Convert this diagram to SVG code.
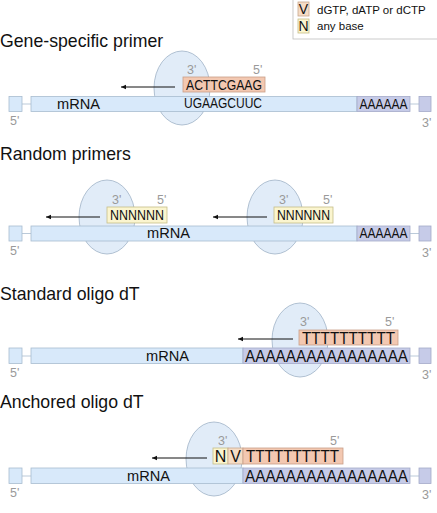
<svg xmlns="http://www.w3.org/2000/svg" width="437" height="513" viewBox="0 0 437 513">
<defs>
<style>
.title{font-family:"Liberation Sans",Arial,sans-serif;font-size:17.7px;fill:#111}
.lbl{font-family:"Liberation Sans",Arial,sans-serif;font-size:12.5px;fill:#9a9a9a}
.seq{font-family:"Liberation Sans",Arial,sans-serif;font-size:14px;fill:#111}
.big{font-family:"Liberation Sans",Arial,sans-serif;font-size:16px;fill:#111}
.leg{font-family:"Liberation Sans",Arial,sans-serif;font-size:11.5px;fill:#111}
.bar{fill:#d8e9fa;stroke:#a9bccf;stroke-width:0.8}
.poly{fill:#c6cbe8;stroke:#a3aac9;stroke-width:0.8}
.ell{fill:#dce9f7;fill-opacity:0.85;stroke:#9fb2c6;stroke-width:0.8}
.peach{fill:#f3c8b1;stroke:#c99e88;stroke-width:0.8}
.yel{fill:#fbf5cf;stroke:#c5bd88;stroke-width:0.8}
.vsw{fill:#f5dcc5;stroke:#c9a88e;stroke-width:0.8}
.tick{stroke:#a9bccf;stroke-width:0.8;fill:none}
.arr{stroke:#111;stroke-width:1;fill:none;marker-end:url(#ah)}
</style>
<marker id="ah" markerWidth="6" markerHeight="6" refX="5" refY="3" orient="auto" markerUnits="userSpaceOnUse">
<path d="M0,0.8 L5,3 L0,5.2 Z" fill="#111"/>
</marker>
</defs>

<g id="legend">
<rect x="293" y="-1" width="150" height="40" fill="#fff" stroke="#bdbdbd" stroke-width="0.8"/>
<rect class="vsw" x="298" y="2" width="11" height="14"/>
<text class="seq" x="303.5" y="14" text-anchor="middle">V</text>
<text class="leg" x="317" y="14">dGTP, dATP or dCTP</text>
<rect class="yel" x="298" y="19" width="11" height="14"/>
<text class="seq" x="303.5" y="31" text-anchor="middle">N</text>
<text class="leg" x="317" y="30">any base</text>
</g>

<!-- Row 1: Gene-specific primer -->
<g id="row1">
<text class="title" x="0" y="47">Gene-specific primer</text>
<ellipse class="ell" cx="182" cy="88" rx="28" ry="37"/>
<rect class="bar" x="9" y="96.5" width="13" height="15"/>
<line class="tick" x1="22" y1="104" x2="31" y2="104"/>
<rect class="bar" x="31" y="96.5" width="326" height="15"/>
<rect class="poly" x="357" y="96.5" width="53" height="15"/>
<line class="tick" x1="410" y1="104" x2="419" y2="104"/>
<rect class="poly" x="419" y="96.5" width="12" height="15"/>
<text class="seq" x="57" y="108.5" textLength="43" lengthAdjust="spacingAndGlyphs">mRNA</text>
<text class="seq" x="184" y="107.5" textLength="78" lengthAdjust="spacingAndGlyphs">UGAAGCUUC</text>
<text class="seq" x="359.5" y="108.5" textLength="48" lengthAdjust="spacingAndGlyphs">AAAAAA</text>
<rect class="peach" x="183" y="77" width="82" height="15"/>
<text class="seq" x="186" y="89.5" textLength="76" lengthAdjust="spacingAndGlyphs">ACTTCGAAG</text>
<text class="lbl" x="187" y="74">3'</text>
<text class="lbl" x="253" y="74">5'</text>
<text class="lbl" x="10" y="125">5'</text>
<text class="lbl" x="422" y="127">3'</text>
</g>

<!-- Row 2: Random primers -->
<g id="row2">
<text class="title" x="0" y="160">Random primers</text>
<ellipse class="ell" cx="107" cy="217" rx="28" ry="37"/>
<ellipse class="ell" cx="275" cy="217" rx="28" ry="37"/>
<rect class="bar" x="9" y="226" width="13" height="15"/>
<line class="tick" x1="22" y1="233.5" x2="31" y2="233.5"/>
<rect class="bar" x="31" y="226" width="326" height="15"/>
<rect class="poly" x="357" y="226" width="53" height="15"/>
<line class="tick" x1="410" y1="233.5" x2="419" y2="233.5"/>
<rect class="poly" x="419" y="226" width="12" height="15"/>
<text class="seq" x="147" y="238" textLength="43" lengthAdjust="spacingAndGlyphs">mRNA</text>
<text class="seq" x="359.5" y="238" textLength="48" lengthAdjust="spacingAndGlyphs">AAAAAA</text>
<rect class="yel" x="107" y="207" width="60" height="16"/>
<text class="seq" x="110" y="220" textLength="54" lengthAdjust="spacingAndGlyphs">NNNNNN</text>
<rect class="yel" x="274" y="207" width="59" height="16"/>
<text class="seq" x="277" y="220" textLength="53" lengthAdjust="spacingAndGlyphs">NNNNNN</text>
<text class="lbl" x="112" y="204">3'</text>
<text class="lbl" x="157" y="204">5'</text>
<text class="lbl" x="279" y="204">3'</text>
<text class="lbl" x="323" y="204">5'</text>
<text class="lbl" x="10" y="255">5'</text>
<text class="lbl" x="422" y="257">3'</text>
</g>

<!-- Row 3: Standard oligo dT -->
<g id="row3">
<text class="title" x="0" y="300">Standard oligo dT</text>
<ellipse class="ell" cx="300" cy="340" rx="28" ry="37"/>
<rect class="bar" x="9" y="348" width="13" height="15.5"/>
<line class="tick" x1="22" y1="356" x2="31" y2="356"/>
<rect class="bar" x="31" y="348" width="212" height="15.5"/>
<rect class="poly" x="243" y="348" width="167" height="15.5"/>
<line class="tick" x1="410" y1="356" x2="419" y2="356"/>
<rect class="poly" x="419" y="348" width="12" height="15.5"/>
<text class="seq" x="146" y="361" textLength="43" lengthAdjust="spacingAndGlyphs">mRNA</text>
<text class="big" x="245" y="362" textLength="163" lengthAdjust="spacingAndGlyphs">AAAAAAAAAAAAAAAA</text>
<rect class="peach" x="299" y="330" width="99" height="15"/>
<text class="big" x="302" y="343.5" textLength="93" lengthAdjust="spacingAndGlyphs">TTTTTTTTTT</text>
<text class="lbl" x="300" y="326">3'</text>
<text class="lbl" x="385" y="326">5'</text>
<text class="lbl" x="10" y="377">5'</text>
<text class="lbl" x="422" y="379">3'</text>
</g>

<!-- Row 4: Anchored oligo dT -->
<g id="row4">
<text class="title" x="0" y="408">Anchored oligo dT</text>
<ellipse class="ell" cx="214" cy="459" rx="28" ry="37"/>
<rect class="bar" x="9" y="468" width="13" height="15.5"/>
<line class="tick" x1="22" y1="476" x2="31" y2="476"/>
<rect class="bar" x="31" y="468" width="212" height="15.5"/>
<rect class="poly" x="243" y="468" width="167" height="15.5"/>
<line class="tick" x1="410" y1="476" x2="419" y2="476"/>
<rect class="poly" x="419" y="468" width="12" height="15.5"/>
<text class="seq" x="127" y="481" textLength="43" lengthAdjust="spacingAndGlyphs">mRNA</text>
<text class="big" x="245" y="482" textLength="163" lengthAdjust="spacingAndGlyphs">AAAAAAAAAAAAAAAA</text>
<rect class="yel" x="213" y="448" width="15" height="16"/>
<text class="big" x="220.5" y="462" text-anchor="middle">N</text>
<rect class="vsw" x="228" y="448" width="15" height="16"/>
<text class="big" x="235.5" y="462" text-anchor="middle">V</text>
<rect class="peach" x="243" y="448" width="100" height="16"/>
<text class="big" x="246" y="462" textLength="93" lengthAdjust="spacingAndGlyphs">TTTTTTTTTT</text>
<text class="lbl" x="218" y="445">3'</text>
<text class="lbl" x="330" y="445">5'</text>
<text class="lbl" x="10" y="497">5'</text>
<text class="lbl" x="422" y="499">3'</text>
</g>

<g id="connectors">
<line class="arr" x1="175" y1="87" x2="121" y2="87"/>
<line class="arr" x1="100" y1="217" x2="46" y2="217"/>
<line class="arr" x1="267" y1="217" x2="213" y2="217"/>
<line class="arr" x1="293" y1="339" x2="238" y2="339"/>
<line class="arr" x1="207" y1="458" x2="152" y2="458"/>
</g>
</svg>
